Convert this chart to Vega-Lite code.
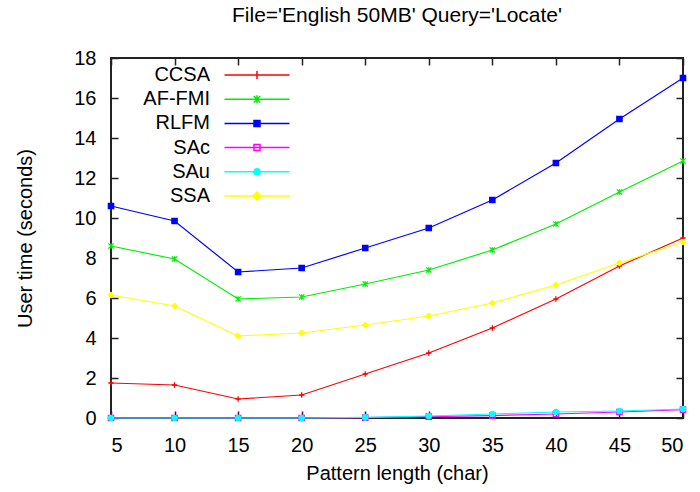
{
  "$schema": "https://vega.github.io/schema/vega-lite/v6.json",
  "width": 572,
  "height": 360,
  "autosize": "none",
  "padding": {"left": 111, "top": 58, "right": 17, "bottom": 74},
  "background": "white",
  "title": {"text": "File='English 50MB' Query='Locate'", "font": "Liberation Sans", "fontSize": 21, "fontWeight": "normal", "color": "#000000", "offset": 22, "anchor": "middle"},
  "config": {
    "view": {"stroke": "#222222", "strokeWidth": 2},
    "font": "Liberation Sans",
    "axis": {"labelFont": "Liberation Sans", "titleFont": "Liberation Sans", "labelFontSize": 20, "titleFontSize": 20, "titleFontWeight": "normal", "labelColor": "#000", "titleColor": "#000", "grid": false, "domain": false, "tickColor": "#222", "tickWidth": 1.5}
  },
  "data": {"values": [
    {"series": "CCSA", "len": 5, "time": 1.75}, {"series": "CCSA", "len": 10, "time": 1.65}, {"series": "CCSA", "len": 15, "time": 0.95}, {"series": "CCSA", "len": 20, "time": 1.15}, {"series": "CCSA", "len": 25, "time": 2.2}, {"series": "CCSA", "len": 30, "time": 3.25}, {"series": "CCSA", "len": 35, "time": 4.5}, {"series": "CCSA", "len": 40, "time": 5.95}, {"series": "CCSA", "len": 45, "time": 7.6}, {"series": "CCSA", "len": 50, "time": 9.0},
    {"series": "AF-FMI", "len": 5, "time": 8.6}, {"series": "AF-FMI", "len": 10, "time": 7.95}, {"series": "AF-FMI", "len": 15, "time": 5.95}, {"series": "AF-FMI", "len": 20, "time": 6.05}, {"series": "AF-FMI", "len": 25, "time": 6.7}, {"series": "AF-FMI", "len": 30, "time": 7.4}, {"series": "AF-FMI", "len": 35, "time": 8.4}, {"series": "AF-FMI", "len": 40, "time": 9.7}, {"series": "AF-FMI", "len": 45, "time": 11.3}, {"series": "AF-FMI", "len": 50, "time": 12.85},
    {"series": "RLFM", "len": 5, "time": 10.6}, {"series": "RLFM", "len": 10, "time": 9.85}, {"series": "RLFM", "len": 15, "time": 7.3}, {"series": "RLFM", "len": 20, "time": 7.5}, {"series": "RLFM", "len": 25, "time": 8.5}, {"series": "RLFM", "len": 30, "time": 9.5}, {"series": "RLFM", "len": 35, "time": 10.9}, {"series": "RLFM", "len": 40, "time": 12.75}, {"series": "RLFM", "len": 45, "time": 14.95}, {"series": "RLFM", "len": 50, "time": 17.0},
    {"series": "SAc", "len": 5, "time": 0.0}, {"series": "SAc", "len": 10, "time": 0.0}, {"series": "SAc", "len": 15, "time": 0.0}, {"series": "SAc", "len": 20, "time": 0.0}, {"series": "SAc", "len": 25, "time": 0.02}, {"series": "SAc", "len": 30, "time": 0.07}, {"series": "SAc", "len": 35, "time": 0.12}, {"series": "SAc", "len": 40, "time": 0.2}, {"series": "SAc", "len": 45, "time": 0.3}, {"series": "SAc", "len": 50, "time": 0.42},
    {"series": "SAu", "len": 5, "time": 0.0}, {"series": "SAu", "len": 10, "time": 0.0}, {"series": "SAu", "len": 15, "time": 0.0}, {"series": "SAu", "len": 20, "time": 0.0}, {"series": "SAu", "len": 25, "time": 0.03}, {"series": "SAu", "len": 30, "time": 0.1}, {"series": "SAu", "len": 35, "time": 0.2}, {"series": "SAu", "len": 40, "time": 0.3}, {"series": "SAu", "len": 45, "time": 0.35}, {"series": "SAu", "len": 50, "time": 0.45},
    {"series": "SSA", "len": 5, "time": 6.15}, {"series": "SSA", "len": 10, "time": 5.6}, {"series": "SSA", "len": 15, "time": 4.1}, {"series": "SSA", "len": 20, "time": 4.25}, {"series": "SSA", "len": 25, "time": 4.65}, {"series": "SSA", "len": 30, "time": 5.1}, {"series": "SSA", "len": 35, "time": 5.75}, {"series": "SSA", "len": 40, "time": 6.65}, {"series": "SSA", "len": 45, "time": 7.75}, {"series": "SSA", "len": 50, "time": 8.8}
  ]},
  "layer": [
    {
      "mark": {"type": "line", "strokeWidth": 1.2},
      "encoding": {
        "x": {"field": "len", "type": "quantitative", "scale": {"domain": [5, 50], "nice": false, "zero": false}, "axis": {"values": [5,10,15,20,25,30,35,40,45,50], "title": "Pattern length (char)", "tickSize": -7, "labelPadding": 24, "titlePadding": 8}},
        "y": {"field": "time", "type": "quantitative", "scale": {"domain": [0, 18], "nice": false}, "axis": {"values": [0,2,4,6,8,10,12,14,16,18], "title": "User time (seconds)", "tickSize": -7, "labelPadding": 22, "titlePadding": 38}},
        "color": {"field": "series", "type": "nominal",
          "scale": {"domain": ["CCSA","AF-FMI","RLFM","SAc","SAu","SSA"], "range": ["#ff0000","#00ee00","#0000ff","#ff00ff","#00ffff","#ffff00"]},
          "legend": {"title": null, "orient": "none", "legendX": 136, "legendY": 7, "symbolType": "stroke", "symbolSize": 100, "symbolStrokeWidth": 1.5, "labelFontSize": 20, "labelFont": "Liberation Sans", "labelColor": "#000", "labelAlign": "right", "labelOffset": -57, "rowPadding": 4.2,
            "encode": {"symbols": {"update": {
              "shape": {"signal": "datum.value == 'CCSA' ? 'M-6.5,0L6.5,0M0,-0.8L0,0.8' : datum.value == 'AF-FMI' ? 'M-6.5,0L6.5,0M-0.65,-0.65L0.65,0.65M-0.65,0.65L0.65,-0.65M0,-0.8L0,0.8' : datum.value == 'RLFM' ? 'M-6.5,0L6.5,0M-0.6,-0.6L0.6,-0.6L0.6,0.6L-0.6,0.6Z' : datum.value == 'SAc' ? 'M-6.5,0L6.5,0M-0.6,-0.6L0.6,-0.6L0.6,0.6L-0.6,0.6Z' : datum.value == 'SAu' ? 'M-6.5,0L6.5,0M0.6,0A0.6,0.6 0 1 1 -0.6,0A0.6,0.6 0 1 1 0.6,0Z' : 'M-6.5,0L6.5,0M0,-0.8L0.8,0L0,0.8L-0.8,0Z'"},
              "fill": {"signal": "datum.value == 'RLFM' ? '#0000ff' : datum.value == 'SAu' ? '#00ffff' : datum.value == 'SSA' ? '#ffff00' : 'transparent'"}
            }}}
          }
        },
        "order": {"field": "len", "type": "quantitative"}
      }
    },
    {
      "mark": {"type": "point", "filled": false, "strokeWidth": 1.3, "size": 28, "opacity": 1},
      "encoding": {
        "x": {"field": "len", "type": "quantitative", "axis": {"orient": "top", "values": [5,10,15,20,25,30,35,40,45,50], "labels": false, "title": null, "tickSize": -7}},
        "y": {"field": "time", "type": "quantitative", "axis": {"orient": "right", "values": [0,2,4,6,8,10,12,14,16,18], "labels": false, "title": null, "tickSize": -7}},
        "stroke": {"field": "series", "type": "nominal", "legend": null,
          "scale": {"range": ["#00ee00","#ff0000","#0000ff","#ff00ff","#00ffff","#ffff00"]}},
        "fill": {"field": "series", "type": "nominal", "legend": null,
          "scale": {"range": ["transparent","transparent","#0000ff","transparent","#00ffff","#ffff00"]}},
        "shape": {"field": "series", "type": "nominal", "legend": null,
          "scale": {"range": ["M-1,-1L1,1M-1,1L1,-1M0,-1L0,1","M-1,0L1,0M0,-1L0,1","square","square","circle","diamond"]}}
      }
    }
  ],
  "resolve": {"axis": {"x": "independent", "y": "independent"}}
}
